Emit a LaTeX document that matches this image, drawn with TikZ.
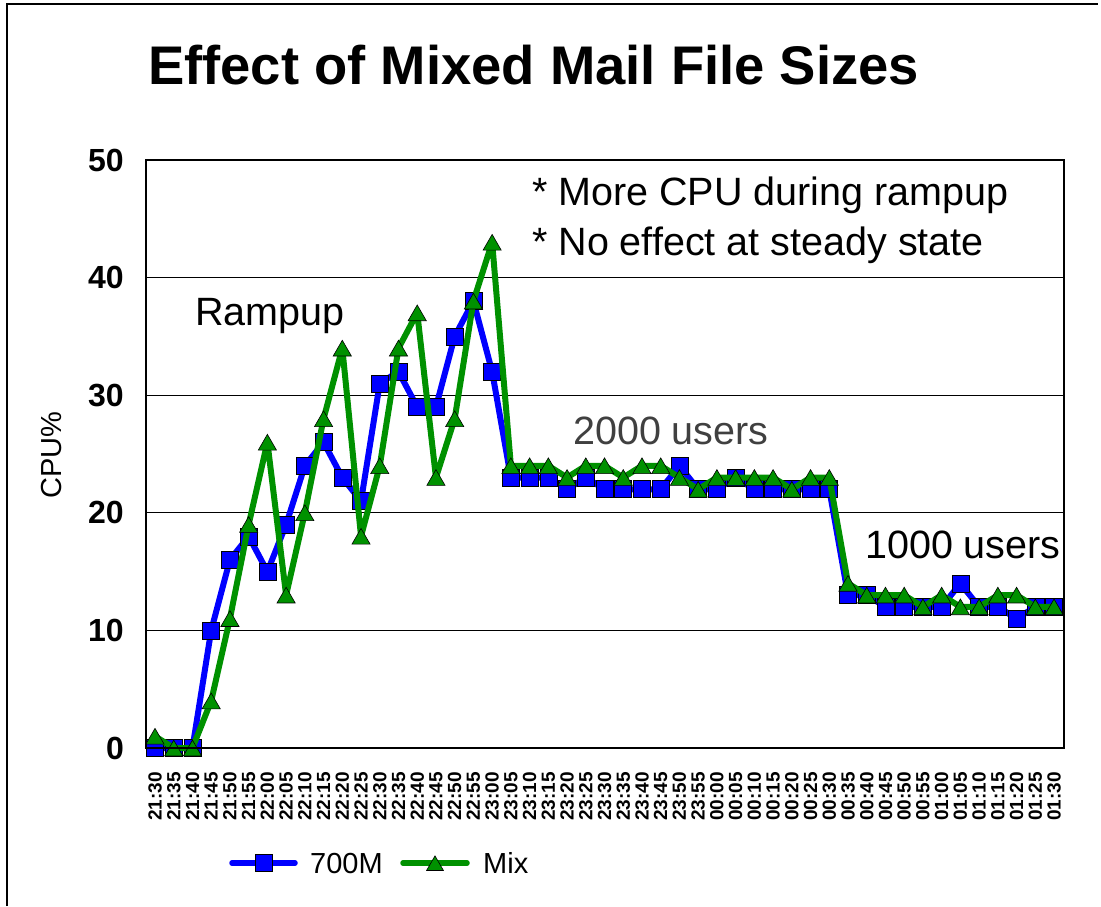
\documentclass[tikz,border=0pt]{standalone}
\usepackage{fontspec}
\setmainfont{Liberation Sans}
\usetikzlibrary{shapes.geometric}
\definecolor{serblue}{RGB}{0,0,255}
\definecolor{sergreen}{RGB}{0,145,0}
\begin{document}
\begin{tikzpicture}[x=1pt,y=-1pt,
  sq/.style={draw=black,line width=0.6pt,fill=serblue,minimum size=17pt,inner sep=0pt,shape=rectangle},
  tri/.style={draw=black,line width=0.6pt,fill=sergreen,regular polygon,regular polygon sides=3,minimum size=21pt,inner sep=0pt,yshift=-2.6pt},
  bline/.style={serblue,line width=6pt,line join=round},
  gline/.style={sergreen,line width=6pt,line join=round},
  ylab/.style={font=\fontsize{32}{36}\selectfont\bfseries,inner sep=0pt,anchor=east},
  xlab/.style={font=\fontsize{19}{20}\selectfont\bfseries,inner sep=0pt,rotate=90,anchor=east},
  anno/.style={font=\fontsize{39.5}{44}\selectfont,inner sep=0pt,anchor=base west},
  legtxt/.style={font=\fontsize{29}{33}\selectfont,inner sep=0pt,anchor=base west}]
\useasboundingbox (0,0) rectangle (1101,906);
\fill[white] (0,0) rectangle (1101,906);
% outer frame
\draw[line width=1.5pt] (7,906) -- (7,4) -- (1098,4);
% title
\node[font=\fontsize{54.4}{60}\selectfont\bfseries,inner sep=0pt,anchor=base west] (title) at (148,84) {Effect of Mixed Mail File Sizes};
% grid
\foreach \v in {10,20,30,40}
  \draw[line width=1pt] (146,{748-11.76*\v}) -- (1064,{748-11.76*\v});
% y labels
\foreach \v in {0,10,20,30,40,50}
  \node[ylab] (y\v) at (124,{748-11.76*\v}) {\v};
\node[font=\fontsize{29}{33}\selectfont,rotate=90,inner sep=0pt] (ytitle) at (52,455) {CPU\%};
% x labels
\foreach \t [count=\i from 0] in {21:30,21:35,21:40,21:45,21:50,21:55,22:00,22:05,22:10,22:15,22:20,22:25,22:30,22:35,22:40,22:45,22:50,22:55,23:00,23:05,23:10,23:15,23:20,23:25,23:30,23:35,23:40,23:45,23:50,23:55,00:00,00:05,00:10,00:15,00:20,00:25,00:30,00:35,00:40,00:45,00:50,00:55,01:00,01:05,01:10,01:15,01:20,01:25,01:30}
  \node[xlab] (xl\i) at ({155+18.73*\i},772) {\t};
% data
\foreach \v [count=\i from 0] in {0,0,0,10,16,18,15,19,24,26,23,21,31,32,29,29,35,38,32,23,23,23,22,23,22,22,22,22,24,22,22,23,22,22,22,22,22,13,13,12,12,12,12,14,12,12,11,12,12}
  \coordinate (b\i) at ({155+18.73*\i},{748-11.76*\v});
\foreach \v [count=\i from 0] in {1,0,0,4,11,19,26,13,20,28,34,18,24,34,37,23,28,38,43,24,24,24,23,24,24,23,24,24,23,22,23,23,23,23,22,23,23,14,13,13,13,12,13,12,12,13,13,12,12}
  \coordinate (g\i) at ({155+18.73*\i},{748-11.76*\v});
% series 700M
\draw[bline] (b0) \foreach \i in {1,...,48} {-- (b\i)};
\foreach \i in {0,...,48} \node[sq] (bm\i) at (b\i) {};
% series Mix
\draw[gline] (g0) \foreach \i in {1,...,48} {-- (g\i)};
\foreach \i in {0,...,48} \node[tri] (gm\i) at (g\i) {};
% frame
\draw[line width=2.5pt] (146,160) rectangle (1064,748);
% annotations
\node[anno] (a1) at (532,205) {* More CPU during rampup};
\node[anno] (a2) at (532,255) {* No effect at steady state};
\node[anno] (ramp) at (195,325) {Rampup};
\node[anno,text=black!75] (u2000) at (573,444) {2000 users};
\node[anno] (u1000) at (865,558) {1000 users};
% legend
\coordinate (lb1) at (232,863);
\coordinate (lb2) at (295,863);
\draw[serblue,line width=5.5pt,line cap=round] (lb1) -- (lb2);
\node[sq] (lbm) at (263.5,863) {};
\node[legtxt] (l700) at (310,873.5) {700M};
\coordinate (lg1) at (403,863);
\coordinate (lg2) at (467,863);
\draw[sergreen,line width=5.5pt,line cap=round] (lg1) -- (lg2);
\node[tri,minimum size=19.5pt] (lgm) at (435,863) {};
\node[legtxt] (lmix) at (483,873.5) {Mix};
\end{tikzpicture}
\end{document}
